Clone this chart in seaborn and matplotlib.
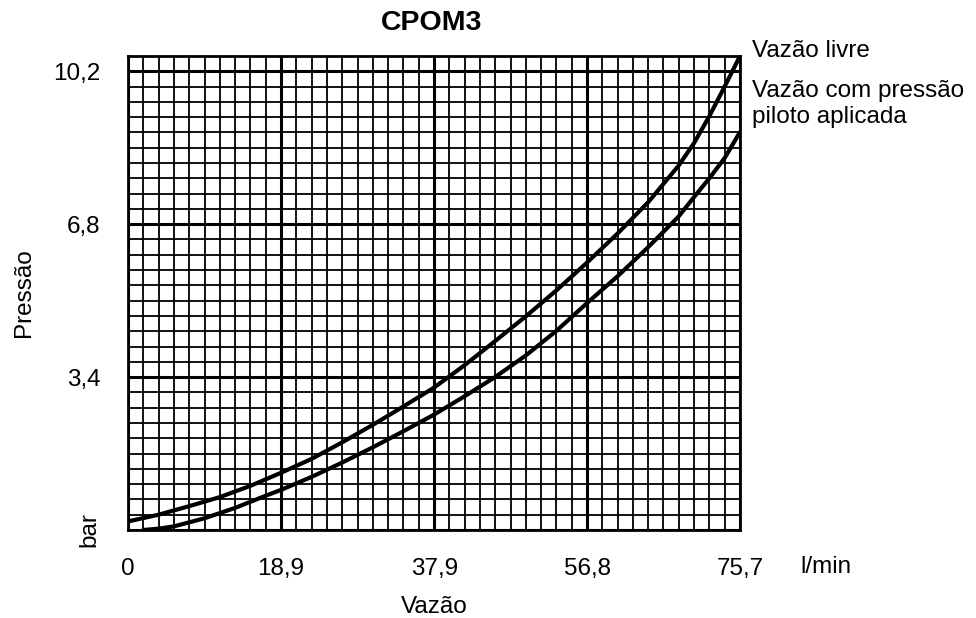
import numpy as np
import pandas as pd
import matplotlib
matplotlib.use("Agg")
import matplotlib.pyplot as plt
import seaborn as sns

# ---- data ----
livre_x = [0, 3.78, 7.56, 11.34, 15.12, 18.9, 22.7, 26.5, 30.3, 34.0, 37.8, 41.6,
           45.4, 49.2, 53.0, 56.8, 60.6, 64.4, 68.1, 70.0, 71.9, 73.8, 75.7]
livre_y = [0.19, 0.34, 0.53, 0.73, 0.98, 1.27, 1.58, 1.95, 2.34, 2.74, 3.16, 3.66,
           4.20, 4.75, 5.33, 5.95, 6.60, 7.30, 8.10, 8.60, 9.20, 9.86, 10.54]
piloto_x = [1.89, 3.78, 5.67, 9.45, 13.23, 17.0, 18.9, 22.7, 26.5, 30.3, 34.0, 37.8,
            41.6, 45.4, 49.2, 53.0, 56.8, 60.6, 64.4, 68.1, 70.0, 71.9, 73.8, 75.7]
piloto_y = [0.0, 0.03, 0.08, 0.26, 0.49, 0.76, 0.89, 1.18, 1.50, 1.84, 2.19, 2.56,
            2.97, 3.40, 3.88, 4.43, 5.05, 5.65, 6.30, 6.97, 7.40, 7.82, 8.27, 8.85]

x_ticks = [0, 18.9, 37.9, 56.8, 75.7]
x_labels = ["0", "18,9", "37,9", "56,8", "75,7"]
y_ticks = [0, 3.4, 6.8, 10.2]
y_labels = ["bar", "3,4", "6,8", "10,2"]

title = "CPOM3"
series_names = ["Vazão livre", "Vazão com pressão\npiloto aplicada"]

df = pd.concat([
    pd.DataFrame({"Vazão": livre_x, "Pressão": livre_y, "serie": series_names[0]}),
    pd.DataFrame({"Vazão": piloto_x, "Pressão": piloto_y, "serie": series_names[1]}),
], ignore_index=True)

# ---- style ----
sns.set_theme(style="white")
plt.rcParams["font.family"] = ["Liberation Sans", "DejaVu Sans"]
plt.rcParams["text.color"] = "black"
plt.rcParams["axes.labelcolor"] = "black"
plt.rcParams["xtick.color"] = "black"
plt.rcParams["ytick.color"] = "black"

FS = 17.5

fig = plt.figure(figsize=(9.76, 6.18), dpi=100)
ax = fig.add_axes([128 / 976, 1 - 530 / 618, 612 / 976, (530 - 56) / 618])

sns.lineplot(data=df, x="Vazão", y="Pressão", hue="serie",
             palette=["black", "black"], linewidth=3.0, legend=False,
             sort=True, estimator=None, ax=ax, zorder=5)

ax.set_xlim(0, 75.7)
ax.set_ylim(0, 10.54)

# grid
ax.set_xticks(x_ticks)
ax.set_xticklabels(x_labels)
ax.set_yticks(y_ticks)
ax.set_yticklabels(y_labels)
ax.set_xticks(np.linspace(0, 75.7, 41), minor=True)
ax.set_yticks(np.arange(0, 10.55, 0.34), minor=True)
ax.grid(which="minor", color="black", linewidth=1.3)
ax.grid(which="major", color="black", linewidth=2.2)
ax.set_axisbelow(True)

ax.tick_params(which="major", direction="out", length=11, width=2.0,
               labelsize=FS, pad=9)
ax.tick_params(which="minor", length=0)
ax.tick_params(axis="x", pad=9)

for lbl in ax.get_yticklabels():
    if lbl.get_text() == "bar":
        lbl.set_rotation(90)
        lbl.set_va("center")

for sp in ax.spines.values():
    sp.set_color("black")
    sp.set_linewidth(2.0)

ax.set_xlabel("Vazão", fontsize=FS, labelpad=12)
ax.set_ylabel("Pressão", fontsize=FS, labelpad=13)

fig.text(432 / 976, 1 - 23 / 618, title, ha="center", va="center",
         fontsize=20.5, fontweight="bold")
fig.text(826 / 976, 1 - 567 / 618, "l/min", ha="center", va="center", fontsize=FS)

# series labels at the right
fig.text(752 / 976, 1 - 57 / 618, series_names[0], ha="left", va="baseline", fontsize=FS)
first, second = series_names[1].split("\n")
fig.text(752 / 976, 1 - 97 / 618, first, ha="left", va="baseline", fontsize=FS)
fig.text(752 / 976, 1 - 123 / 618, second, ha="left", va="baseline", fontsize=FS)

fig.savefig("out.png", dpi=100)
